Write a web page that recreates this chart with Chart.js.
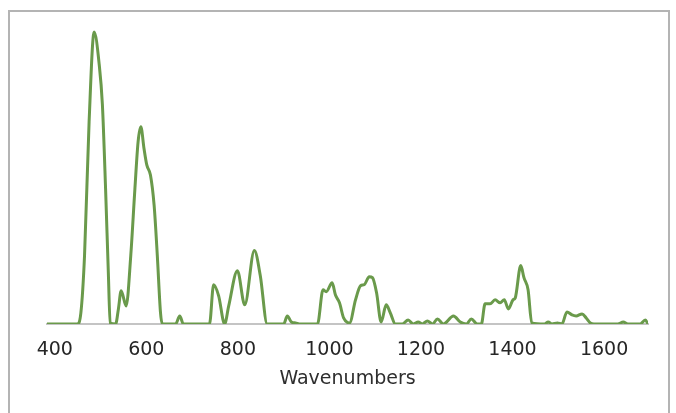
<!DOCTYPE html>
<html>
<head>
<meta charset="utf-8">
<script src="https://cdn.jsdelivr.net/npm/chart.js@4/dist/chart.umd.min.js"></script>
<style>
  html, body { margin: 0; padding: 0; background: #fff; overflow: hidden; }
  #wrap { position: relative; width: 676px; height: 413px; }
  #frame { position: absolute; left: 8px; top: 10px; width: 662px; height: 420px; border: 2px solid #b4b4b4; box-sizing: border-box; }
  #chart { position: absolute; left: 0; top: 0; }
</style>
</head>
<body>
<div id="wrap">
  <div id="frame"></div>
  <canvas id="chart" width="676" height="413"></canvas>
</div>
<script>
// spectrum (intensity in arbitrary units)
var wavenumbers = [383, 449, 457, 465, 475, 486, 497, 504, 511, 517,
    521, 533, 539, 545, 556, 566, 575, 582, 588, 595,
    601, 609, 617, 624, 631, 635, 664, 673, 681, 738,
    747, 758, 771, 780, 799, 815, 836, 849, 864, 900,
    908, 917, 926, 937, 974, 986, 993, 1006, 1013, 1022,
    1031, 1044, 1057, 1068, 1076, 1087, 1094, 1103, 1113, 1124,
    1133, 1144, 1159, 1172, 1183, 1194, 1203, 1214, 1225, 1236,
    1249, 1271, 1286, 1299, 1310, 1323, 1332, 1340, 1351, 1362,
    1373, 1382, 1391, 1401, 1406, 1418, 1425, 1434, 1442, 1470,
    1478, 1486, 1498, 1508, 1519, 1530, 1539, 1552, 1561, 1570,
    1578, 1630, 1642, 1652, 1679, 1690, 1696];
var intensity = [0, 0, 11, 68, 201, 290, 258, 218, 134, 51,
    1, 0, 15, 33, 18, 68, 134, 181, 196, 174,
    158, 148, 118, 68, 11, 0, 0, 8, 0, 0,
    39, 28, 0, 18, 53, 19, 73, 48, 0, 0,
    8, 2, 1, 0, 0, 34, 32, 41, 29, 21,
    6, 1, 24, 38, 39, 47, 46, 31, 2, 19,
    11, 0, 0, 4, 0, 2, 0, 3, 0, 5,
    0, 8, 2, 0, 5, 0, 0, 20, 20, 24,
    21, 24, 15, 24, 26, 58, 46, 34, 1, 0,
    2, 0, 1, 0, 12, 9, 8, 10, 6, 1,
    0, 0, 2, 0, 0, 4, 0];
var tickValues = [400, 600, 800, 1000, 1200, 1400, 1600];

var points = wavenumbers.map(function (w, i) {
    return { x: w, y: intensity[i] };
});

var ctx = document.getElementById('chart').getContext('2d');
var spectrumChart = new Chart(ctx, {
    type: 'line',
    data: {
        datasets: [
            {
                data: points,
                borderColor: '#6a9a4b',
                borderWidth: 3,
                pointRadius: 0,
                fill: false,
                cubicInterpolationMode: 'monotone'
            }
        ]
    },
    options: {
        responsive: false,
        animation: false,
        layout: {
            padding: { left: 47, right: 28, top: 22, bottom: 10 }
        },
        plugins: {
            legend: { display: false },
            tooltip: { enabled: false }
        },
        scales: {
            x: {
                type: 'linear',
                min: 383,
                max: 1696,
                afterBuildTicks: function (axis) {
                    axis.ticks = tickValues.map(function (v) { return { value: v }; });
                },
                grid: { display: false, drawTicks: true, tickLength: 17 },
                border: { display: true, color: '#c4c4c4', width: 2 },
                ticks: {
                    padding: 0,
                    maxRotation: 0,
                    color: '#262626',
                    font: { family: 'DejaVu Sans', size: 19, lineHeight: 1 },
                    callback: function (value) { return String(value); }
                },
                title: {
                    display: true,
                    text: 'Wavenumbers',
                    color: '#2e2e2e',
                    padding: { top: 10, bottom: 14 },
                    font: { family: 'DejaVu Sans', size: 19, lineHeight: 1 }
                }
            },
            y: {
                display: false,
                min: 0,
                max: 300
            }
        }
    }
});
</script>
</body>
</html>
